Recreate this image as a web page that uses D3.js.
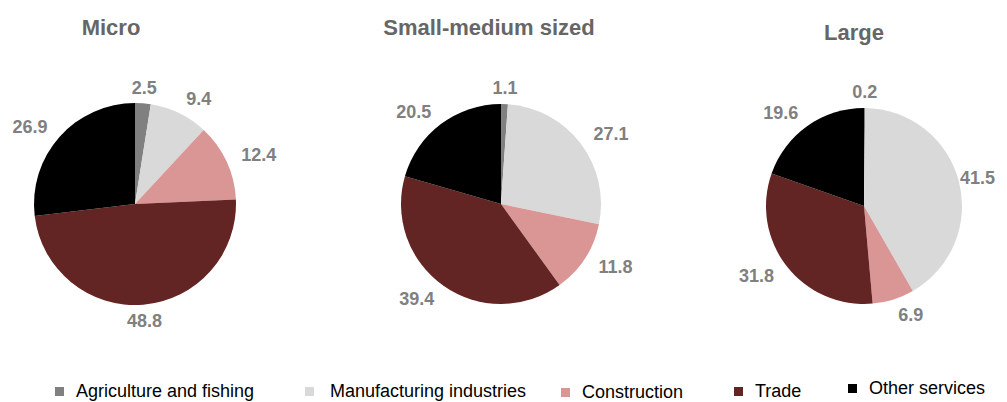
<!DOCTYPE html>
<html>
<head>
<meta charset="utf-8">
<script src="https://cdn.jsdelivr.net/npm/d3@7"></script>
<style>
    body { margin: 0; background: #fff; }
    svg { display: block; font-family: 'Liberation Sans', Arial, sans-serif; }
</style>
</head>
<body>
<svg id="chart" width="1007" height="402"></svg>
<script>
// sectors, in the order they go round each pie (clockwise from 12 o'clock)
const sectors = ['Agriculture and fishing', 'Manufacturing industries', 'Construction', 'Trade', 'Other services'];
const sizes = ['Micro', 'Small-medium sized', 'Large'];

// share of each sector, %
const micro = [2.5, 9.4, 12.4, 48.8, 26.9];
const smallMedium = [1.1, 27.1, 11.8, 39.4, 20.5];
const large = [0.2, 41.5, 6.9, 31.8, 19.6];

const colors = ['#808080', '#d9d9d9', '#d99694', '#632523', '#000000'];

// layout
const width = 1007;
const pies = [
    {cx: 135, cy: 204, r: 101, titleX: 111, titleY: 35},
    {cx: 501, cy: 204, r: 100, titleX: 489, titleY: 35},
    {cx: 864, cy: 206, r: 98, titleX: 854, titleY: 40}
];
const legendX = [55, 305, 561, 734, 848];
const legendY = [397, 397, 398, 397, 394];

const svg = d3.select('#chart');
const color = d3.scaleOrdinal().domain(sectors).range(colors);
const pie = d3.pie().sort(null).value(d => d.value);

[micro, smallMedium, large].forEach((values, i) => {
    const p = pies[i];
    const data = sectors.map((s, j) => ({sector: s, value: values[j]}));
    const arc = d3.arc().innerRadius(0).outerRadius(p.r);
    const g = svg.append('g').attr('transform', `translate(${p.cx},${p.cy})`);

    g.selectAll('path')
        .data(pie(data))
        .enter().append('path')
        .attr('d', arc)
        .attr('fill', d => color(d.data.sector));

    const lr = p.r + 16;
    g.selectAll('text')
        .data(pie(data))
        .enter().append('text')
        .attr('font-size', 18)
        .attr('font-weight', 'bold')
        .attr('fill', '#808080')
        .text(d => d3.format('.1f')(d.data.value))
        .each(function (d) {
            const a = (d.startAngle + d.endAngle) / 2;
            const s = Math.sin(a);
            let x = lr * s;
            if (s > 0.2) {
                // keep labels inside the picture, as the original does
                const w = this.getComputedTextLength();
                x = Math.min(x, width - 12 - w - p.cx);
            }
            d3.select(this)
                .attr('x', x)
                .attr('y', -lr * Math.cos(a))
                .attr('dy', '0.35em')
                .attr('text-anchor', s > 0.2 ? 'start' : (s < -0.2 ? 'end' : 'middle'));
        });

    svg.append('text')
        .attr('x', p.titleX)
        .attr('y', p.titleY)
        .attr('text-anchor', 'middle')
        .attr('font-size', 22)
        .attr('font-weight', 'bold')
        .attr('fill', '#666666')
        .text(sizes[i]);
});

const legend = svg.append('g')
    .selectAll('g')
    .data(sectors)
    .enter().append('g')
    .attr('transform', (d, i) => `translate(${legendX[i]},${legendY[i]})`);

legend.append('rect')
    .attr('x', 0)
    .attr('y', -10)
    .attr('width', 9)
    .attr('height', 9)
    .attr('fill', d => color(d));

legend.append('text')
    .attr('x', (d, i) => i === 1 ? 25 : 21)
    .attr('font-size', 18)
    .attr('fill', '#000')
    .text(d => d);
</script>
</body>
</html>
